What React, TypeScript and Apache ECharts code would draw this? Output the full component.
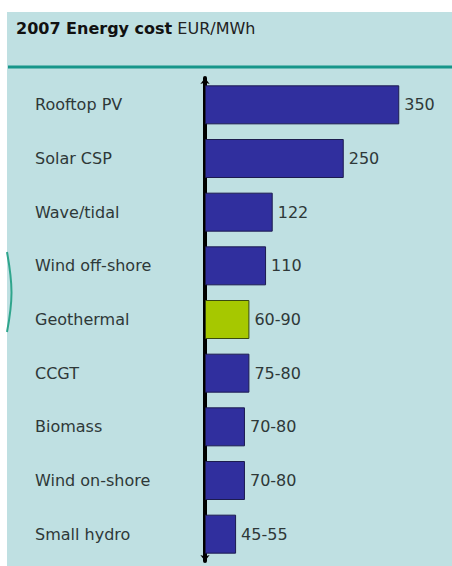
import React, { useEffect, useRef } from "react";
import * as echarts from "echarts";

const categories = [
  "Rooftop PV",
  "Solar CSP",
  "Wave/tidal",
  "Wind off-shore",
  "Geothermal",
  "CCGT",
  "Biomass",
  "Wind on-shore",
  "Small hydro",
];
const values = [350, 250, 122, 110, 80, 80, 72, 72, 56];
const valueLabels = ["350", "250", "122", "110", "60-90", "75-80", "70-80", "70-80", "45-55"];
const highlighted = ["Geothermal"];

const FONT = "DejaVu Sans";

export default function App() {
  const ref = useRef<HTMLDivElement>(null);
  useEffect(() => {
    if (!ref.current) return;
    const chart = echarts.init(ref.current, undefined, { renderer: "svg" });
    chart.setOption({
      animation: false,
      backgroundColor: "#ffffff",
      title: {
        text: "{b|2007 Energy cost} {n|EUR/MWh}",
        left: 11,
        top: 15,
        textStyle: {
          fontSize: 16,
          fontFamily: FONT,
          fontWeight: "normal",
          color: "#111",
          rich: {
            b: { fontSize: 16, fontFamily: FONT, fontWeight: "bold", color: "#111" },
            n: { fontSize: 16, fontFamily: FONT, fontWeight: "normal", color: "#222" },
          },
        },
      },
      graphic: [
        {
          type: "rect",
          z: -10,
          shape: { x: 7, y: 12, width: 445, height: 554 },
          style: { fill: "#bfe0e2" },
        },
        {
          type: "line",
          z: -5,
          shape: { x1: 8, y1: 67, x2: 452, y2: 67 },
          style: { stroke: "#17968a", lineWidth: 3 },
        },
        {
          type: "bezierCurve",
          z: -5,
          shape: { x1: 7, y1: 252, cpx1: 13, cpy1: 285, cpx2: 13, cpy2: 300, x2: 7, y2: 332 },
          style: { stroke: "#2fa58c", lineWidth: 2, fill: "none" },
        },
      ],
      grid: { left: 205, top: 78, width: 222, height: 483 },
      xAxis: {
        type: "value",
        min: 0,
        max: 400,
        show: false,
      },
      yAxis: {
        type: "category",
        data: categories,
        inverse: true,
        axisLine: {
          show: true,
          symbol: ["arrow", "arrow"],
          symbolSize: [7, 6],
          lineStyle: { color: "#000", width: 4 },
        },
        axisTick: { show: false },
        splitLine: { show: false },
        axisLabel: {
          align: "left",
          margin: 170,
          fontSize: 16,
          fontFamily: FONT,
          color: "#2e3838",
        },
      },
      series: [
        {
          type: "bar",
          barWidth: 39,
          z: 1,
          data: values.map((v, i) => ({
            value: v,
            itemStyle: highlighted.includes(categories[i])
              ? { color: "#a6c800", borderColor: "#3a4a10", borderWidth: 1 }
              : { color: "#302f9e", borderColor: "#1c1b4f", borderWidth: 1 },
          })),
          label: {
            show: true,
            position: "right",
            distance: 5,
            fontSize: 16,
            fontFamily: FONT,
            color: "#2e3838",
            formatter: (p: any) => valueLabels[p.dataIndex],
          },
        },
      ],
    });
    return () => chart.dispose();
  }, []);
  return (
    <div
      ref={ref}
      style={{ position: "absolute", left: 0, top: 0, width: 452, height: 566 }}
    />
  );
}
